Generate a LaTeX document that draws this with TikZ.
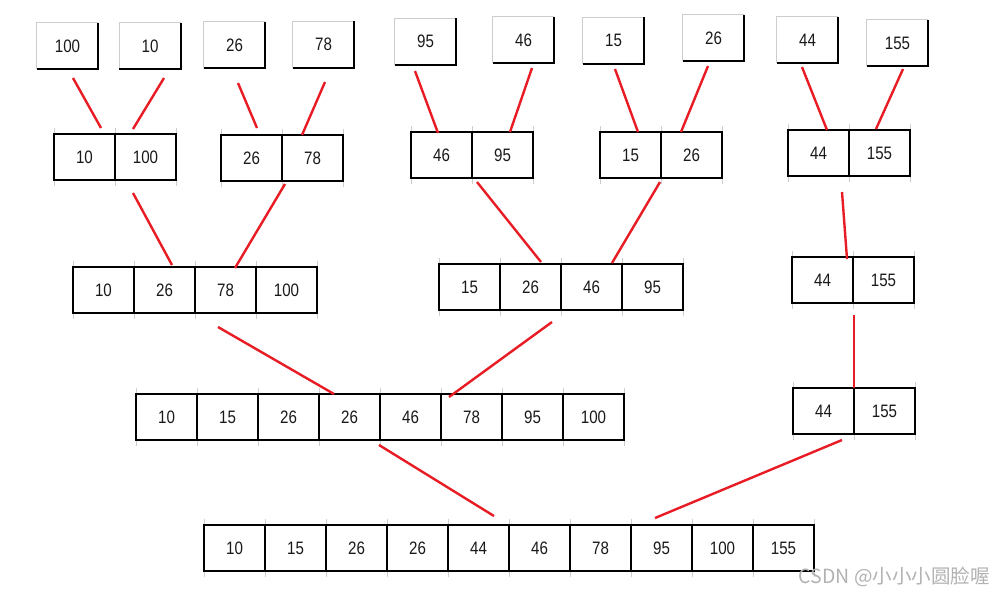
\documentclass[tikz,border=0pt]{standalone}
\usepackage{fontspec}
\setmainfont{Liberation Sans}[FakeStretch=0.84]
\newfontfamily\cjkwm{Noto Sans CJK SC}
\usetikzlibrary{calc}
\definecolor{linkred}{RGB}{232,28,36}
\definecolor{tickgray}{RGB}{205,205,205}
\tikzset{
  digits/.style={font=\fontsize{18}{20}\selectfont, text=black!90},
  cell/.style={digits, draw=black, line width=1.6pt, minimum width=61pt, minimum height=46pt, inner sep=0pt},
  single/.style={digits, minimum width=61pt, minimum height=46pt, inner sep=0pt},
  link/.style={draw=linkred, line width=2.4pt},
  tick/.style={draw=tickgray, line width=0.8pt},
}
\newcommand\cellrow[4]{%
  \foreach \v [count=\i] in {#4} {
    \draw[tick] ({#2+61*(\i-1)},{#3-6}) -- ({#2+61*(\i-1)},{#3+52});
    \draw[tick] ({#2+61*\i},{#3-6}) -- ({#2+61*\i},{#3+52});
  }
  \foreach \v [count=\i] in {#4} {
    \node[cell] (#1-\i) at ({#2+30.5+61*(\i-1)}, {#3+23}) {\v};
  }
}
\newcommand\topbox[3]{%
  \node[single] (#1) at (#2) {\raisebox{-1.5pt}{#3}};
  \draw[draw=tickgray, line width=1pt] (#1.south west) |- (#1.north east);
  \draw[draw=black, line width=1.8pt] (#1.north east) |- (#1.south west);
}
\begin{document}
\begin{tikzpicture}[x=1pt,y=-1pt]
\useasboundingbox (0,0) rectangle (1000,595);
\fill[white] (0,0) rectangle (1000,595);

% level 1 single boxes
\topbox{t1}{67.5,46}{100}
\topbox{t2}{150,46}{10}
\topbox{t3}{234.5,45}{26}
\topbox{t4}{323.5,44.5}{78}
\topbox{t5}{425.5,41.5}{95}
\topbox{t6}{523.5,40}{46}
\topbox{t7}{613.5,40.5}{15}
\topbox{t8}{713.5,38}{26}
\topbox{t9}{807.5,40}{44}
\topbox{t10}{897.5,43}{155}

% level 2
\cellrow{p1}{54}{134}{10,100}
\cellrow{p2}{221}{135}{26,78}
\cellrow{p3}{411}{132}{46,95}
\cellrow{p4}{600}{132}{15,26}
\cellrow{p5}{788}{130}{44,155}

% level 3
\cellrow{q1}{73}{267}{10,26,78,100}
\cellrow{q2}{439}{264}{15,26,46,95}
\cellrow{q3}{792}{257}{44,155}

% level 4
\cellrow{r1}{136}{394}{10,15,26,26,46,78,95,100}
\cellrow{r2}{793}{388}{44,155}

% level 5
\cellrow{s1}{204}{525}{10,15,26,26,44,46,78,95,100,155}

% connector end points
\coordinate (a1) at (73,78);   \coordinate (b1) at (101,128);
\coordinate (a2) at (164,78);  \coordinate (b2) at (133,129);
\coordinate (a3) at (238,83);  \coordinate (b3) at (257,128);
\coordinate (a4) at (325,82);  \coordinate (b4) at (302,135);
\coordinate (a5) at (415,71);  \coordinate (b5) at (438,133);
\coordinate (a6) at (532,68);  \coordinate (b6) at (510,132);
\coordinate (a7) at (615,69);  \coordinate (b7) at (638,132);
\coordinate (a8) at (708,66);  \coordinate (b8) at (681,132);
\coordinate (a9) at (802,67);  \coordinate (b9) at (827,130);
\coordinate (a10) at (903,69); \coordinate (b10) at (876,129);
\coordinate (a11) at (133,193); \coordinate (b11) at (172,265);
\coordinate (a12) at (285,184); \coordinate (b12) at (235,268);
\coordinate (a13) at (477,182); \coordinate (b13) at (541,262);
\coordinate (a14) at (660,182); \coordinate (b14) at (612,263);
\coordinate (a15) at (842,192); \coordinate (b15) at (847,259);
\coordinate (a16) at (218,327); \coordinate (b16) at (334,394);
\coordinate (a17) at (552,322); \coordinate (b17) at (449,397);
\coordinate (a18) at (854,315); \coordinate (b18) at (854,388);
\coordinate (a19) at (379,445); \coordinate (b19) at (494,516);
\coordinate (a20) at (842,440); \coordinate (b20) at (655,518);

\foreach \k in {1,...,20} {\draw[link] (a\k) -- (b\k);}

% watermark
\node[anchor=east, inner sep=0pt, text=black!30, font=\cjkwm\fontsize{19.5}{22}\selectfont] (wm) at (990,577) {CSDN @小小小圆脸喔};
\end{tikzpicture}
\end{document}
